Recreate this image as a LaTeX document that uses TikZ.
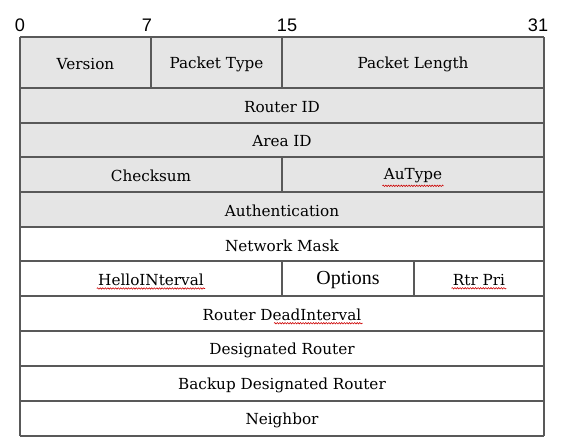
\documentclass[tikz,border=0pt]{standalone}
\usepackage{fontspec}
\setmainfont{DejaVu Serif}
\newfontfamily\bitfont{Liberation Sans}
\newfontfamily\optfont{Liberation Serif}
\usetikzlibrary{decorations.pathmorphing}

\tikzset{
  field/.style={inner sep=1pt, font=\fontsize{13}{15}\selectfont},
  bitnum/.style={anchor=base, inner sep=0pt, font=\bitfont\fontsize{15.5}{17}\selectfont},
  rule/.style={draw=black!65, line width=1.1pt},
  squiggle/.style={red!80!black, line width=0.5pt, decorate,
    decoration={snake, segment length=2.2pt, amplitude=0.6pt}}
}

\begin{document}
\begin{tikzpicture}[x=0.03cm, y=-0.03cm]
\useasboundingbox (0,0) rectangle (565,441);

%header fill
\fill[black!10] (20,37) rectangle (544,227);

%rows
\foreach \y in {37,88,123,157,192,227,261,296,331,366,401,436}
  \draw[rule] (20,\y) -- (544,\y);
\draw[rule] (20,37) -- (20,436);
\draw[rule] (544,37) -- (544,436);

%columns
\draw[rule] (151,37) -- (151,88);
\draw[rule] (282,37) -- (282,88);
\draw[rule] (282,157) -- (282,192);
\draw[rule] (282,261) -- (282,296);
\draw[rule] (414,261) -- (414,296);

%bit numbers
\node[bitnum] (b0)  at (20,31)  {0};
\node[bitnum] (b7)  at (147,31) {7};
\node[bitnum] (b15) at (287,31) {15};
\node[bitnum] (b31) at (538,31) {31};

%text
\node[field] (ver)    at (85.5,64)  {Version};
\node[field] (ptype)  at (216.5,64) {Packet Type};
\node[field] (plen)   at (413,64)   {Packet Length};
\node[field] (rid)    at (282,107)  {Router ID};
\node[field] (aid)    at (282,141.5)  {Area ID};
\node[field] (csum)   at (151,176)  {Checksum};
\node[field] (autype) at (413,176)  {AuType};
\node[field] (auth)   at (282,211)  {Authentication};
\node[field] (mask)   at (282,245.5)  {Network Mask};
\node[field] (hello)  at (151,280)  {HelloINterval};
\node[field, font=\optfont\fontsize{17}{19}\selectfont] (opts) at (348,280.5) {Options};
\node[field] (rtrpri) at (479,280)  {Rtr Pri};
\node[field] (dead)   at (282,315)  {Router \smash{DeadInterval}};
\node[field] (dr)     at (282,350)  {Designated Router};
\node[field] (bdr)    at (282,385)  {Backup Designated Router};
\node[field] (nbr)    at (282,420)  {Neighbor};

%spell check marks
\draw[squiggle] ([yshift=-1pt]hello.south west) -- ([yshift=-1pt]hello.south east);
\draw[squiggle] ([yshift=-1pt]autype.south west) -- ([yshift=-1pt]autype.south east);
\draw[squiggle] ([yshift=-1pt]rtrpri.south west) -- ([yshift=-1pt]rtrpri.south east);
\draw[squiggle] ([xshift=62pt,yshift=-1pt]dead.south west) -- ([yshift=-1pt]dead.south east);
\end{tikzpicture}
\end{document}
